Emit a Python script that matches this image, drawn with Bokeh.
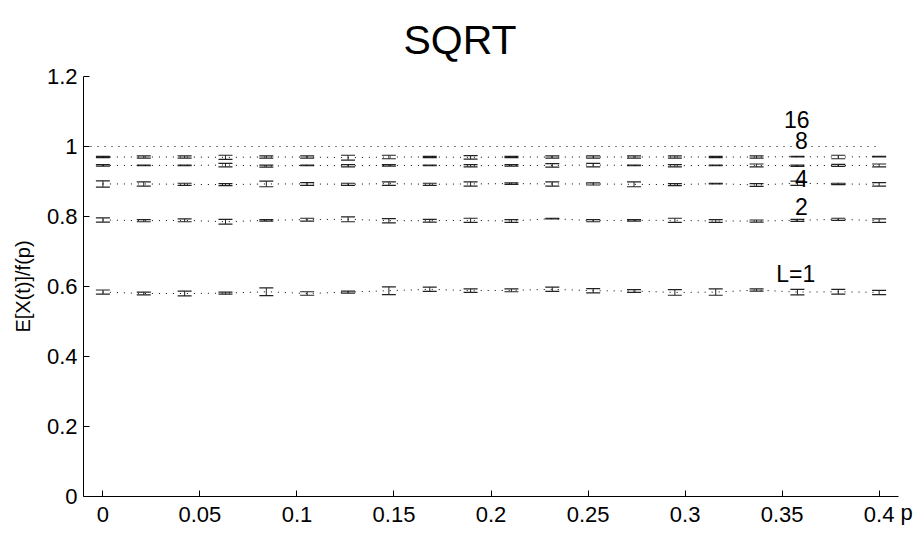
from bokeh.plotting import figure
from bokeh.models import (ColumnDataSource, Whisker, TeeHead, Range1d, FixedTicker, Label)
from bokeh.embed import file_html
from bokeh.resources import INLINE
from bokeh.core.properties import value

# ---- data ----
p_values = [i * 0.4 / 19 for i in range(20)]

L1_mean = [0.584, 0.580, 0.580, 0.581, 0.585, 0.580, 0.584, 0.588, 0.592, 0.588,
           0.589, 0.592, 0.588, 0.587, 0.583, 0.584, 0.590, 0.584, 0.585, 0.583]
L1_err = [0.006, 0.004, 0.007, 0.003, 0.011, 0.005, 0.003, 0.011, 0.006, 0.005,
          0.004, 0.006, 0.006, 0.004, 0.008, 0.009, 0.003, 0.008, 0.007, 0.006]

L2_mean = [0.790, 0.788, 0.789, 0.785, 0.789, 0.791, 0.792, 0.788, 0.788, 0.789,
           0.787, 0.794, 0.788, 0.789, 0.789, 0.787, 0.787, 0.789, 0.792, 0.788]
L2_err = [0.006, 0.003, 0.004, 0.007, 0.002, 0.004, 0.007, 0.006, 0.004, 0.006,
          0.004, 0.001, 0.003, 0.002, 0.006, 0.004, 0.003, 0.003, 0.003, 0.005]

L4_mean = [0.893, 0.893, 0.892, 0.891, 0.893, 0.893, 0.892, 0.894, 0.892, 0.893,
           0.894, 0.893, 0.893, 0.892, 0.891, 0.894, 0.890, 0.895, 0.893, 0.892]
L4_err = [0.009, 0.006, 0.003, 0.003, 0.008, 0.004, 0.003, 0.005, 0.003, 0.006,
          0.002, 0.006, 0.003, 0.007, 0.003, 0.001, 0.004, 0.006, 0.002, 0.005]

L8_mean = [0.946, 0.946, 0.946, 0.947, 0.944, 0.946, 0.945, 0.946, 0.946, 0.945,
           0.946, 0.946, 0.947, 0.946, 0.945, 0.946, 0.946, 0.945, 0.946, 0.946]
L8_err = [0.002, 0.001, 0.001, 0.005, 0.003, 0.001, 0.003, 0.002, 0.001, 0.003,
          0.002, 0.005, 0.005, 0.001, 0.003, 0.001, 0.004, 0.002, 0.003, 0.004]

L16_mean = [0.970, 0.970, 0.970, 0.969, 0.970, 0.970, 0.968, 0.970, 0.970, 0.969,
            0.970, 0.970, 0.970, 0.970, 0.970, 0.970, 0.970, 0.971, 0.970, 0.971]
L16_err = [0.002, 0.003, 0.003, 0.006, 0.003, 0.003, 0.007, 0.005, 0.002, 0.005,
           0.002, 0.003, 0.003, 0.003, 0.003, 0.002, 0.003, 0.001, 0.005, 0.001]

ref_x = [-0.01, 0.4]
ref_y = [1.0, 1.0]

series_labels = ["L=1", "2", "4", "8", "16"]
label_x = [0.347, 0.3566, 0.3566, 0.3566, 0.351]
label_y = [0.636, 0.8295, 0.909, 1.018, 1.0775]

x_ticks = [0, 0.05, 0.1, 0.15, 0.2, 0.25, 0.3, 0.35, 0.4]
x_tick_labels = ["0", "0.05", "0.1", "0.15", "0.2", "0.25", "0.3", "0.35", "0.4"]
y_ticks = [0, 0.2, 0.4, 0.6, 0.8, 1.0, 1.2]
y_tick_labels = ["0", "0.2", "0.4", "0.6", "0.8", "1", "1.2"]

FONT = "Liberation Sans"
TICK_FS = "22px"

p = figure(width=919, height=533, output_backend="svg", toolbar_location=None,
           x_range=Range1d(-0.01, 0.4141), y_range=Range1d(0, 1.2),
           title="SQRT")
p.min_border_left = 83
p.min_border_right = 13
p.min_border_top = 75
p.min_border_bottom = 37
p.outline_line_color = None
p.grid.visible = False
p.background_fill_color = "white"
p.border_fill_color = "white"

p.title.align = "left"
p.title.offset = 320
p.title.standoff = 28
p.title.text_font = FONT
p.title.text_font_size = "41px"
p.title.text_font_style = "normal"
p.title.text_color = "black"

for ax in (p.xaxis[0], p.yaxis[0]):
    ax.major_label_text_font = FONT
    ax.major_label_text_font_size = TICK_FS
    ax.major_label_text_color = "black"
    ax.axis_line_color = "black"
    ax.major_tick_line_color = "black"
    ax.major_tick_in = 6
    ax.major_tick_out = 0
    ax.minor_tick_line_color = None
    ax.major_label_standoff = 6
p.xaxis.major_label_standoff = 10

p.xaxis.ticker = FixedTicker(ticks=x_ticks)
p.xaxis.major_label_overrides = dict(zip(x_ticks, x_tick_labels))
p.xaxis.bounds = (-0.01, 0.41)
p.yaxis.ticker = FixedTicker(ticks=y_ticks)
p.yaxis.major_label_overrides = dict(zip(y_ticks, y_tick_labels))

xa = p.xaxis[0]
if "axis_label_align" in xa.properties():
    xa.axis_label = "p"
    xa.axis_label_align = "end"
    xa.axis_label_standoff = -25
    xa.axis_label_text_font = FONT
    xa.axis_label_text_font_size = TICK_FS
    xa.axis_label_text_font_style = "normal"
    xa.axis_label_text_color = "black"
else:
    p.add_layout(Label(x=0.4135, y=0, text="p", text_font=FONT,
                       text_font_size=TICK_FS, text_color="black",
                       text_baseline="bottom", text_align="left"))

p.yaxis.axis_label = "E[X(t)]/f(p)"
p.yaxis.axis_label_text_font = FONT
p.yaxis.axis_label_text_font_size = "20px"
p.yaxis.axis_label_text_font_style = "normal"
p.yaxis.axis_label_text_color = "black"
p.yaxis.axis_label_standoff = 10

# reference line at 1
p.line(ref_x, ref_y, line_color="black", line_width=1, line_dash="1 6")

for mean, err in [(L1_mean, L1_err), (L2_mean, L2_err), (L4_mean, L4_err),
                  (L8_mean, L8_err), (L16_mean, L16_err)]:
    src = ColumnDataSource(dict(x=p_values, y=mean,
                                upper=[m + e for m, e in zip(mean, err)],
                                lower=[m - e for m, e in zip(mean, err)]))
    p.line("x", "y", source=src, line_color="black", line_width=1, line_dash="1 6")
    w = Whisker(source=src, base="x", upper="upper", lower="lower", dimension="height",
                line_color="#222222", line_width=1,
                upper_head=TeeHead(size=14, line_color="#222222", line_width=1.2),
                lower_head=TeeHead(size=14, line_color="#222222", line_width=1.2))
    p.add_layout(w)

p.text(x=label_x, y=label_y, text=series_labels, text_font=value(FONT),
       text_font_size="23px", text_color="black", text_align="left",
       text_baseline="middle")

open("out.html", "w").write(file_html(p, INLINE))
